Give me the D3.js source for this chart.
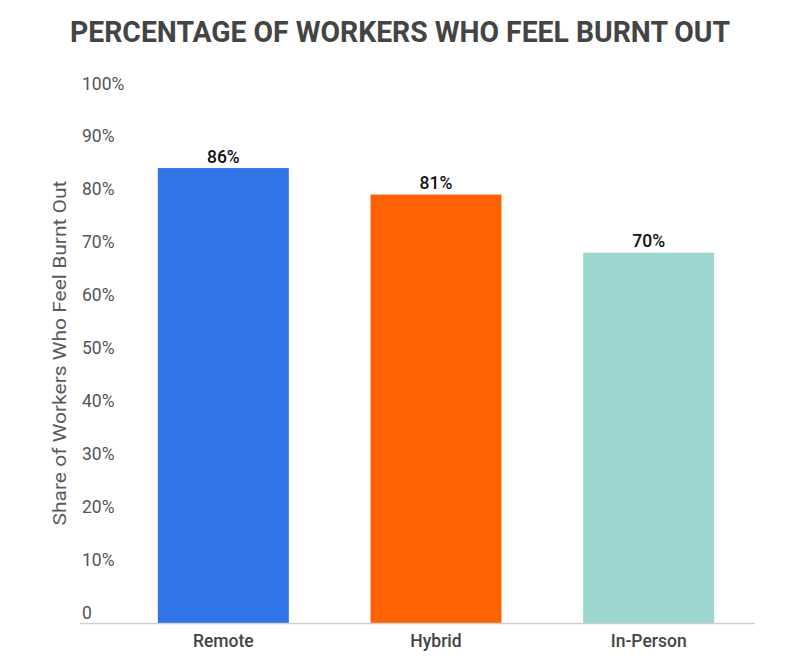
<!DOCTYPE html>
<html>
<head>
<meta charset="utf-8">
<script src="https://cdn.jsdelivr.net/npm/d3@7"></script>
<style>
  body { margin: 0; background: #fff; }
  text { font-family: Roboto, "Noto Sans", sans-serif; }
</style>
</head>
<body>
<svg id="chart"></svg>
<script>
// données du graphique
const categories = ["Remote", "Hybrid", "In-Person"];
const values = [86, 81, 70];
const barColors = ["#3174e8", "#ff6203", "#9dd6cf"];
const tickValues = [0, 10, 20, 30, 40, 50, 60, 70, 80, 90, 100];

const width = 800, height = 662;

const svg = d3.select("#chart")
  .attr("width", width)
  .attr("height", height);

// échelles
const x = d3.scaleBand()
  .domain(categories)
  .range([117, 755])
  .paddingInner(0.384)
  .paddingOuter(0.192);

const y = d3.scaleLinear()
  .domain([0, 100])
  .range([623, 94]);

const color = d3.scaleOrdinal().domain(categories).range(barColors);

// titre
svg.append("text")
  .attr("x", 400)
  .attr("y", 42)
  .attr("text-anchor", "middle")
  .attr("font-size", 30)
  .attr("font-weight", 700)
  .attr("fill", "#444")
  .attr("textLength", 660)
  .attr("lengthAdjust", "spacingAndGlyphs")
  .text("PERCENTAGE OF WORKERS WHO FEEL BURNT OUT");

// axe y (labels seulement, au-dessus de la position)
const yAxis = svg.append("g")
  .attr("transform", "translate(82,0)")
  .call(d3.axisRight(y).tickValues(tickValues).tickSize(0)
    .tickFormat(d => d === 0 ? "0" : d + "%"));
yAxis.select(".domain").remove();
yAxis.selectAll("text")
  .attr("x", 0)
  .attr("dy", -5)
  .attr("text-anchor", "start")
  .attr("font-size", 17.5)
  .attr("fill", "#555")
  .style("font-family", "Roboto, sans-serif");

// titre axe y
svg.append("text")
  .attr("transform", "translate(66,353) rotate(-90)")
  .attr("text-anchor", "middle")
  .attr("font-size", 18)
  .attr("fill", "#5a5a5a")
  .attr("textLength", 345)
  .attr("lengthAdjust", "spacingAndGlyphs")
  .text("Share of Workers Who Feel Burnt Out");

// barres
svg.selectAll("rect.bar")
  .data(categories)
  .enter().append("rect")
  .attr("class", "bar")
  .attr("x", d => x(d))
  .attr("y", (d, i) => y(values[i]))
  .attr("width", x.bandwidth())
  .attr("height", (d, i) => y(0) - y(values[i]))
  .attr("fill", d => color(d));

// valeurs
svg.selectAll("text.val")
  .data(categories)
  .enter().append("text")
  .attr("class", "val")
  .attr("x", d => x(d) + x.bandwidth() / 2)
  .attr("y", (d, i) => y(values[i]) - 5.5)
  .attr("text-anchor", "middle")
  .attr("font-size", 17.5)
  .attr("font-weight", 500)
  .attr("fill", "#111")
  .text((d, i) => values[i] + "%");

// ligne de base
svg.append("line")
  .attr("x1", 80).attr("x2", 755)
  .attr("y1", y(0) + 0.5).attr("y2", y(0) + 0.5)
  .attr("stroke", "#cfcfcf")
  .attr("stroke-width", 1.5);

// axe x
const xAxis = svg.append("g")
  .attr("transform", `translate(0,${y(0)})`)
  .call(d3.axisBottom(x).tickSize(0));
xAxis.select(".domain").remove();
xAxis.selectAll("text")
  .attr("dy", 0)
  .attr("y", 24)
  .attr("font-size", 17.5)
  .attr("font-weight", 500)
  .attr("fill", "#444")
  .style("font-family", "Roboto, sans-serif");
</script>
</body>
</html>
